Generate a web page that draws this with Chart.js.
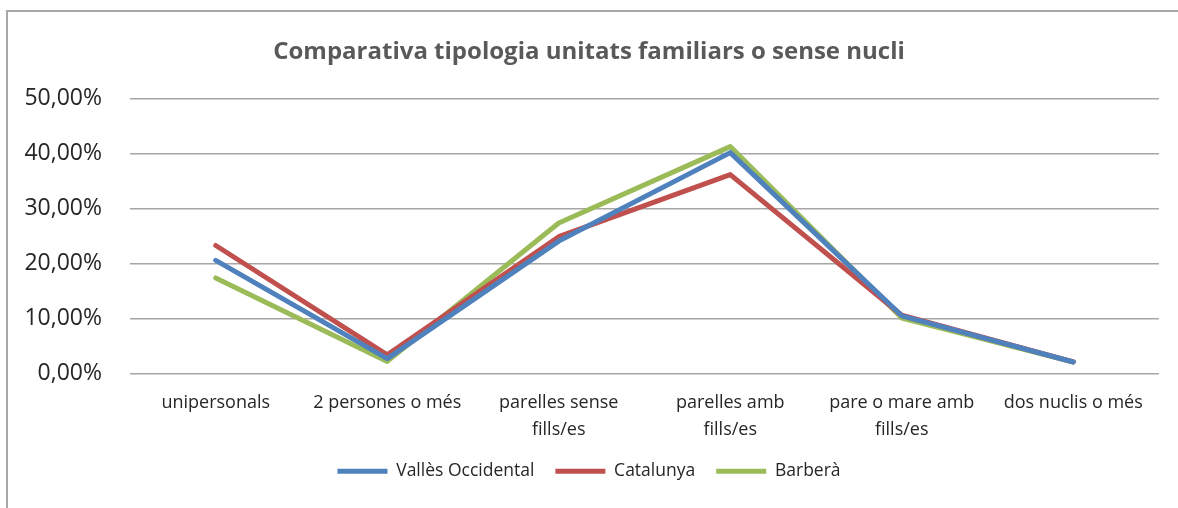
<!DOCTYPE html>
<html>
<head>
<meta charset="utf-8">
<script src="https://cdn.jsdelivr.net/npm/chart.js@4.4.1/dist/chart.umd.min.js"></script>
<style>
  html, body { margin: 0; padding: 0; background: #fff; }
  #wrap { position: relative; width: 1178px; height: 508px; overflow: hidden; }
  #frame { position: absolute; left: 6px; top: 10px; width: 1200px; height: 600px;
           border-left: 2px solid #a8a8a8; border-top: 2px solid #a8a8a8; }
  canvas { position: absolute; left: 0; top: 0; }
</style>
</head>
<body>
<div id="wrap">
  <div id="frame"></div>
  <canvas id="chart" width="1178" height="508"></canvas>
</div>
<script>
// dades
const categories = [
  'unipersonals',
  '2 persones o més',
  ['parelles sense', 'fills/es'],
  ['parelles amb', 'fills/es'],
  ['pare o mare amb', 'fills/es'],
  'dos nuclis o més'
];
const vallesOccidental = [0.206, 0.027, 0.241, 0.402, 0.105, 0.021];
const catalunya = [0.233, 0.034, 0.249, 0.362, 0.106, 0.021];
const barbera = [0.174, 0.022, 0.274, 0.413, 0.101, 0.021];
const yTicks = [0, 0.1, 0.2, 0.3, 0.4, 0.5];

const FONT = 'Open Sans';

const fmtPct = function(v) {   // 0.1 -> "10,00%"
  return (v * 100).toFixed(2).replace('.', ',') + '%';
}

const lineSet = function(label, data, color) {
  return {
    label: label,
    data: data,
    borderColor: color,
    backgroundColor: color,
    borderWidth: 5,
    borderCapStyle: 'round',
    borderJoinStyle: 'round',
    pointRadius: 0,
    pointHoverRadius: 0,
    pointStyle: 'line',
    tension: 0
  };
}

const ctx = document.getElementById('chart').getContext('2d');
const chart = new Chart(ctx, {
  type: 'line',
  data: {
    labels: categories,
    datasets: [
      lineSet('Vallès Occidental', vallesOccidental, '#4F81BD'),
      lineSet('Catalunya', catalunya, '#C0504D'),
      lineSet('Barberà', barbera, '#9BBB59')
    ]
  },
  options: {
    responsive: false,
    animation: false,
    layout: { padding: { left: 0, right: 0, top: 0, bottom: 18 } },
    plugins: {
      title: {
        display: true,
        text: 'Comparativa tipologia unitats familiars o sense nucli',
        color: '#595959',
        font: { family: FONT, size: 24, weight: 'bold', lineHeight: 1.2 },
        padding: { top: 38, bottom: 32 }
      },
      legend: {
        position: 'bottom',
        labels: {
          usePointStyle: true,
          pointStyleWidth: 50,
          padding: 21,
          color: '#262626',
          font: { family: FONT, size: 17.5 }
        }
      },
      tooltip: { enabled: false }
    },
    scales: {
      x: {
        offset: true,
        grid: { display: false },
        border: { display: false },
        ticks: {
          color: '#262626',
          maxRotation: 0,
          autoSkip: false,
          padding: 8,
          font: { family: FONT, size: 18, lineHeight: 1.5 }
        },
        afterFit: function(scale) { scale.height = 68; }
      },
      y: {
        min: 0,
        max: 0.5,
        grid: { color: '#a6a6a6', lineWidth: 1.5, drawTicks: false },
        border: { display: false },
        afterBuildTicks: function(scale) {
          scale.ticks = yTicks.map(v => ({ value: v }));
        },
        ticks: {
          color: '#262626',
          padding: 28,
          font: { family: FONT, size: 23 },
          callback: function(v) { return fmtPct(v); }
        },
        afterFit: function(scale) { scale.width = 130; }
      },
      // marge dret buit
      yRight: {
        position: 'right',
        grid: { display: false },
        border: { display: false },
        ticks: { display: false },
        afterFit: function(scale) { scale.width = 19; }
      }
    }
  }
});
</script>
</body>
</html>
